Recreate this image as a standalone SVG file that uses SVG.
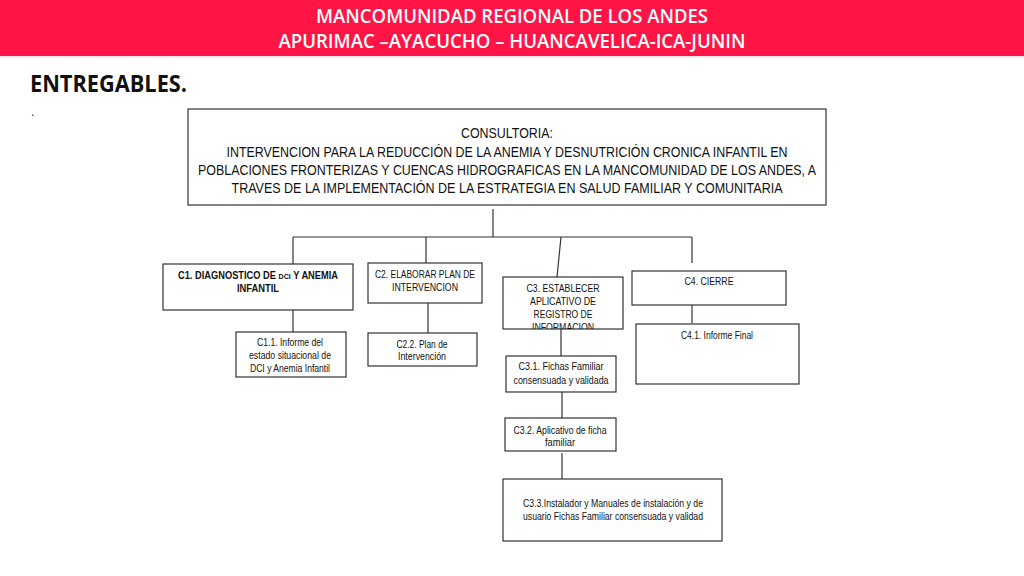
<svg xmlns="http://www.w3.org/2000/svg" width="1024" height="576" viewBox="0 0 1024 576">
<style>
.box{fill:#fff;stroke:#333;stroke-width:1.2}
.ln{stroke:#333;stroke-width:1.2;fill:none}
.t{font-family:'Liberation Sans Narrow','Liberation Sans',Arial,sans-serif;font-size:10.5px;fill:#111;text-anchor:middle}
.m{font-family:'Liberation Sans Narrow','Liberation Sans',Arial,sans-serif;font-size:14.5px;fill:#111;text-anchor:middle}
.hd{font-family:'Open Sans','Liberation Sans',sans-serif;font-size:19px;font-weight:600;fill:#fff;text-anchor:middle}
</style>
<defs>
<clipPath id="c3clip"><rect x="503" y="277" width="120" height="52"/></clipPath>
</defs>
<rect x="0" y="0" width="1024" height="56" fill="#ff1446"/>
<rect x="0" y="56" width="1024" height="2" fill="#fde6ee"/>
<text class="hd" x="512" y="23" textLength="392" lengthAdjust="spacingAndGlyphs">MANCOMUNIDAD REGIONAL DE LOS ANDES</text>
<text class="hd" x="512" y="48" textLength="467" lengthAdjust="spacingAndGlyphs">APURIMAC –AYACUCHO – HUANCAVELICA-ICA-JUNIN</text>
<text x="30" y="92" font-family="'Open Sans','Liberation Sans',sans-serif" font-weight="bold" font-size="24" fill="#111" textLength="157" lengthAdjust="spacingAndGlyphs">ENTREGABLES.</text>
<text x="31" y="116" font-family="'Liberation Sans',sans-serif" font-size="12" fill="#111">.</text>

<g id="connectors">
<line class="ln" x1="493" y1="209" x2="493" y2="237"/>
<line class="ln" x1="293" y1="237" x2="692" y2="237"/>
<line class="ln" x1="293" y1="237" x2="293" y2="264"/>
<line class="ln" x1="426" y1="237" x2="426" y2="263"/>
<line class="ln" x1="561" y1="237" x2="557" y2="277"/>
<line class="ln" x1="692" y1="237" x2="692" y2="263"/>
<line class="ln" x1="293" y1="310" x2="293" y2="332"/>
<line class="ln" x1="428" y1="303" x2="428" y2="333"/>
<line class="ln" x1="561" y1="329" x2="561" y2="356"/>
<line class="ln" x1="692" y1="297" x2="692" y2="323"/>
<line class="ln" x1="562" y1="392" x2="562" y2="418"/>
<line class="ln" x1="562" y1="453" x2="562" y2="479"/>
</g>

<g id="main">
<rect class="box" x="188" y="109" width="638" height="96"/>
<text class="m" x="507" y="138" textLength="92" lengthAdjust="spacingAndGlyphs">CONSULTORIA:</text>
<text class="m" x="507" y="157" textLength="561" lengthAdjust="spacingAndGlyphs">INTERVENCION PARA LA REDUCCIÓN DE LA ANEMIA Y DESNUTRICIÓN CRONICA INFANTIL EN</text>
<text class="m" x="507" y="175" textLength="618" lengthAdjust="spacingAndGlyphs">POBLACIONES FRONTERIZAS Y CUENCAS HIDROGRAFICAS EN LA MANCOMUNIDAD DE LOS ANDES, A</text>
<text class="m" x="507" y="193" textLength="551" lengthAdjust="spacingAndGlyphs">TRAVES DE LA IMPLEMENTACIÓN DE LA ESTRATEGIA EN SALUD FAMILIAR Y COMUNITARIA</text>
</g>

<g id="c1">
<rect class="box" x="163" y="264" width="190" height="46"/>
<text class="t" x="258" y="279" font-weight="bold" font-size="11" textLength="160" lengthAdjust="spacingAndGlyphs">C1. DIAGNOSTICO DE <tspan font-size="8">DCI</tspan> Y ANEMIA</text>
<text class="t" x="258" y="292" font-weight="bold" font-size="11" textLength="42" lengthAdjust="spacingAndGlyphs">INFANTIL</text>
</g>
<g id="c2">
<rect class="box" x="368" y="263" width="114" height="40"/>
<text class="t" x="425" y="278" textLength="100" lengthAdjust="spacingAndGlyphs">C2. ELABORAR PLAN DE</text>
<text class="t" x="425" y="291" textLength="66" lengthAdjust="spacingAndGlyphs">INTERVENCION</text>
</g>
<g id="c3">
<rect class="box" x="503" y="277" width="120" height="52"/>
<g clip-path="url(#c3clip)">
<text class="t" x="563" y="292" textLength="73" lengthAdjust="spacingAndGlyphs">C3. ESTABLECER</text>
<text class="t" x="563" y="305" textLength="66" lengthAdjust="spacingAndGlyphs">APLICATIVO DE</text>
<text class="t" x="563" y="318" textLength="59" lengthAdjust="spacingAndGlyphs">REGISTRO DE</text>
<text class="t" x="563" y="331" textLength="62" lengthAdjust="spacingAndGlyphs">INFORMACION</text>
</g>
</g>
<g id="c4">
<rect class="box" x="632" y="271" width="154" height="34"/>
<text class="t" x="709" y="285" textLength="49" lengthAdjust="spacingAndGlyphs">C4. CIERRE</text>
</g>
<g id="c11">
<rect class="box" x="236" y="332" width="110" height="45"/>
<text class="t" x="290" y="346" textLength="66" lengthAdjust="spacingAndGlyphs">C1.1. Informe del</text>
<text class="t" x="290" y="359" textLength="82" lengthAdjust="spacingAndGlyphs">estado situacional de</text>
<text class="t" x="290" y="372" textLength="80" lengthAdjust="spacingAndGlyphs">DCI y Anemia Infantil</text>
</g>
<g id="c22">
<rect class="box" x="368" y="333" width="109" height="33"/>
<text class="t" x="422" y="348" textLength="51" lengthAdjust="spacingAndGlyphs">C2.2. Plan de</text>
<text class="t" x="422" y="360" textLength="48" lengthAdjust="spacingAndGlyphs">Intervención</text>
</g>
<g id="c31">
<rect class="box" x="506" y="356" width="110" height="36"/>
<text class="t" x="561" y="370" textLength="85" lengthAdjust="spacingAndGlyphs">C3.1. Fichas Familiar</text>
<text class="t" x="561" y="384" textLength="95" lengthAdjust="spacingAndGlyphs">consensuada y validada</text>
</g>
<g id="c32">
<rect class="box" x="505" y="418" width="111" height="33"/>
<text class="t" x="560" y="434" textLength="93" lengthAdjust="spacingAndGlyphs">C3.2. Aplicativo de ficha</text>
<text class="t" x="560" y="446" textLength="30" lengthAdjust="spacingAndGlyphs">familiar</text>
</g>
<g id="c33">
<rect class="box" x="503" y="479" width="219" height="62"/>
<text class="t" x="613" y="507" textLength="180" lengthAdjust="spacingAndGlyphs">C3.3.Instalador y Manuales de instalación y de</text>
<text class="t" x="613" y="520" textLength="180" lengthAdjust="spacingAndGlyphs">usuario Fichas Familiar consensuada y validad</text>
</g>
<g id="c41">
<rect class="box" x="636" y="324" width="163" height="60"/>
<text class="t" x="717" y="339" textLength="72" lengthAdjust="spacingAndGlyphs">C4.1. Informe Final</text>
</g>
</svg>
